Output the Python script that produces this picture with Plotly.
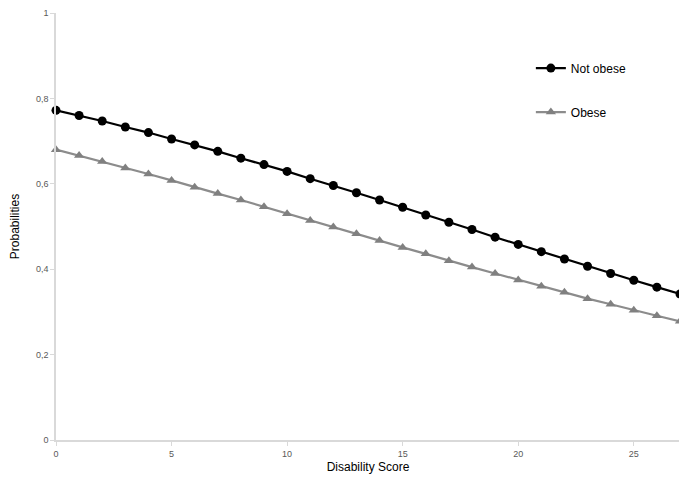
import plotly.graph_objects as go

disability_score = list(range(28))
not_obese = [0.772, 0.760, 0.747, 0.733, 0.720, 0.705, 0.691, 0.676, 0.660, 0.645,
             0.629, 0.612, 0.596, 0.579, 0.562, 0.545, 0.527, 0.510, 0.493, 0.475,
             0.458, 0.441, 0.424, 0.407, 0.390, 0.374, 0.358, 0.342]
obese = [0.680, 0.666, 0.652, 0.637, 0.623, 0.608, 0.592, 0.577, 0.562, 0.546,
         0.530, 0.514, 0.499, 0.483, 0.467, 0.451, 0.436, 0.420, 0.405, 0.390,
         0.375, 0.360, 0.346, 0.331, 0.318, 0.304, 0.291, 0.278]

x_ticks = [0, 5, 10, 15, 20, 25]
y_ticks = [0, 0.2, 0.4, 0.6, 0.8, 1]
y_tick_text = ["0", "0,2", "0,4", "0,6", "0,8", "1"]

fig = go.Figure()
fig.add_trace(go.Scatter(
    x=disability_score, y=not_obese, name="Not obese", mode="lines+markers",
    line=dict(color="#000000", width=2.2),
    marker=dict(symbol="circle", size=9, color="#000000"),
    legendgroup="a", cliponaxis=False))
fig.add_trace(go.Scatter(
    x=disability_score, y=obese, name="Obese", mode="lines+markers",
    line=dict(color="#8c8c8c", width=2.2),
    marker=dict(symbol="triangle-up", size=9, color="#808080"),
    legendgroup="b", cliponaxis=False))

fig.update_layout(
    width=679, height=473,
    margin=dict(l=48, r=7, t=5, b=41),
    plot_bgcolor="white", paper_bgcolor="white",
    font=dict(family="Liberation Sans", color="#000000"),
    showlegend=True,
    legend=dict(x=0.761, y=0.905, xanchor="left", yanchor="top",
                font=dict(size=12, color="#000000"),
                itemwidth=30, tracegroupgap=25, traceorder="grouped",
                bgcolor="rgba(0,0,0,0)"),
    xaxis=dict(range=[0, 27], tickvals=x_ticks, showgrid=False, zeroline=False,
               showline=True, linecolor="#d9d9d9", linewidth=1.5,
               ticks="outside", ticklen=4, tickcolor="#d9d9d9",
               tickfont=dict(size=9, color="#595959"), ticklabeloverflow="allow",
               title=dict(text="Disability Score", font=dict(size=12, color="#000000"), standoff=5)),
    yaxis=dict(range=[0, 1], tickvals=y_ticks, ticktext=y_tick_text, showgrid=False, zeroline=False,
               showline=True, linecolor="#d9d9d9", linewidth=1.5, automargin=False,
               ticks="outside", ticklen=4, tickcolor="#d9d9d9",
               tickfont=dict(size=9, color="#595959"), ticklabeloverflow="allow",
               title=dict(text="Probabilities", font=dict(size=12, color="#000000"), standoff=22)),
)

fig.write_html("out.html")
